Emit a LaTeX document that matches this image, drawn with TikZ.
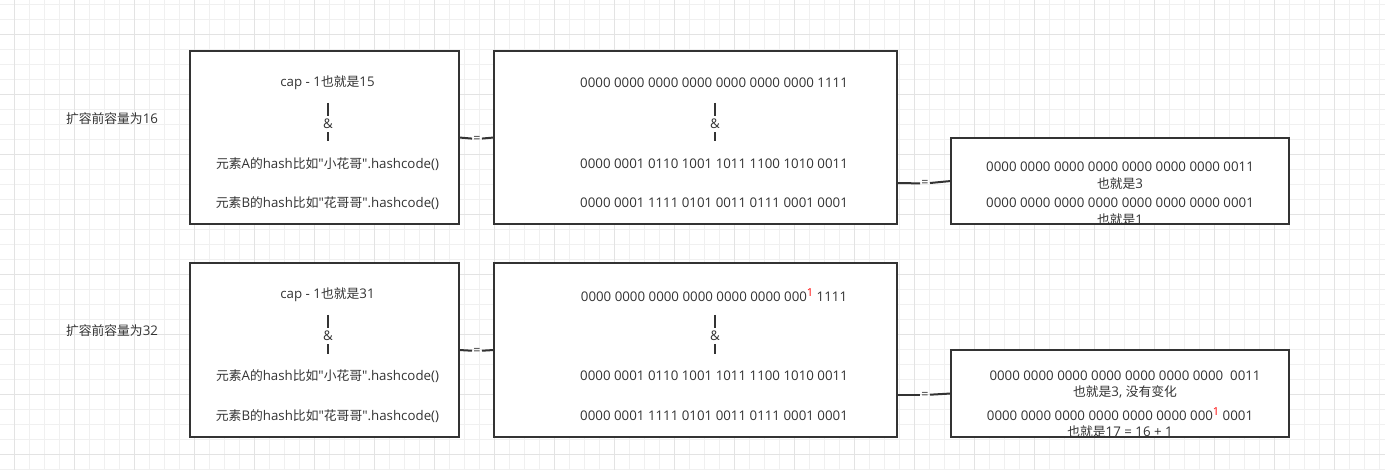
\documentclass[tikz,border=0pt]{standalone}
\usepackage{fontspec}
\setmainfont{Open Sans}[Ligatures=TeXOff]
\newfontfamily\cjk{Noto Sans CJK SC}[Scale=0.962]
\definecolor{linec}{HTML}{333333}
\definecolor{textc}{HTML}{333333}
\definecolor{gridl}{HTML}{F0F0F0}
\definecolor{gridd}{HTML}{E3E3E3}
\newcommand{\zh}[1]{{\cjk #1}}
\newcommand{\redone}{\textcolor{red}{\raisebox{4.5pt}{\fontsize{11}{11}\selectfont 1}}}
\begin{document}
\begin{tikzpicture}[x=1pt,y=-1pt,
  box/.style={draw=linec,line width=1.8pt,fill=white,inner sep=0pt,outer sep=0pt,anchor=north west},
  txt/.style={text=textc,font=\fontsize{13.3}{15}\selectfont,inner sep=0pt,anchor=center},
  eqlab/.style={text=textc,font=\fontsize{12.5}{13}\selectfont,inner sep=1.2pt,anchor=center},
  amplab/.style={text=textc,font=\fontsize{13.3}{15}\selectfont,inner sep=3pt,anchor=center},
  conn/.style={draw=linec,line width=2pt},
  vbar/.style={draw=linec,line width=1.8pt}]
\useasboundingbox (0,0) rectangle (1385,470);
\fill[white] (0,0) rectangle (1385,470);
% grid
\foreach \i in {0,...,92} {
  \pgfmathsetmacro{\gx}{14.3+15*\i}
  \draw[gridl,line width=0.8pt] (\gx,0) -- (\gx,470);
}
\foreach \i in {0,...,31} {
  \pgfmathsetmacro{\gy}{4.3+15*\i}
  \draw[gridl,line width=0.8pt] (0,\gy) -- (1385,\gy);
}
\foreach \i in {0,...,23} {
  \pgfmathsetmacro{\gx}{14.3+60*\i}
  \draw[gridd,line width=0.8pt] (\gx,0) -- (\gx,470);
}
\foreach \i in {0,...,7} {
  \pgfmathsetmacro{\gy}{34.3+60*\i}
  \draw[gridd,line width=0.8pt] (0,\gy) -- (1385,\gy);
}

% left labels
\node[txt] (lab16) at (112,119) {\zh{扩容前容量为}16};
\node[txt] (lab32) at (112,331) {\zh{扩容前容量为}32};

% boxes
\node[box,minimum width=269pt,minimum height=173pt] (b1) at (190,51) {};
\node[box,minimum width=403pt,minimum height=173pt] (b2) at (494,51) {};
\node[box,minimum width=338pt,minimum height=86pt] (b3) at (951,138) {};
\node[box,minimum width=269pt,minimum height=174pt] (b4) at (190,263) {};
\node[box,minimum width=403pt,minimum height=174pt] (b5) at (494,263) {};
\node[box,minimum width=338pt,minimum height=87pt] (b6) at (951,350) {};

% box 1 texts
\node[txt] (b1t1) at (327.5,83) {cap - 1\zh{也就是}15};
\coordinate (b1vt) at (328,103);
\coordinate (b1vb) at (328,141);
\node[amplab] (b1amp) at (328,124) {\&};
\draw[vbar] (b1vt) -- (b1amp);
\draw[vbar] (b1amp) -- (b1vb);
\node[txt] (b1t2) at (327.5,164) {\zh{元素}A\zh{的}hash\zh{比如}"\zh{小花哥}".hashcode()};
\node[txt] (b1t3) at (327.5,203) {\zh{元素}B\zh{的}hash\zh{比如}"\zh{花哥哥}".hashcode()};

% box 2 texts
\node[txt] (b2t1) at (714,83) {0000 0000 0000 0000 0000 0000 0000 1111};
\coordinate (b2vt) at (715,103);
\coordinate (b2vb) at (715,141);
\node[amplab] (b2amp) at (715,124) {\&};
\draw[vbar] (b2vt) -- (b2amp);
\draw[vbar] (b2amp) -- (b2vb);
\node[txt] (b2t2) at (714,164) {0000 0001 0110 1001 1011 1100 1010 0011};
\node[txt] (b2t3) at (714,203) {0000 0001 1111 0101 0011 0111 0001 0001};

% box 3 texts (clipped)
\begin{scope}
\clip (952,139) rectangle (1288,223);
\node[txt] (b3t1) at (1120,167) {0000 0000 0000 0000 0000 0000 0000 0011};
\node[txt] (b3t2) at (1120,184) {\zh{也就是}3};
\node[txt] (b3t3) at (1120,203) {0000 0000 0000 0000 0000 0000 0000 0001};
\node[txt] (b3t4) at (1120,219.5) {\zh{也就是}1};
\end{scope}

% box 4 texts
\node[txt] (b4t1) at (327.5,295) {cap - 1\zh{也就是}31};
\coordinate (b4vt) at (328,315);
\coordinate (b4vb) at (328,354);
\node[amplab] (b4amp) at (328,336) {\&};
\draw[vbar] (b4vt) -- (b4amp);
\draw[vbar] (b4amp) -- (b4vb);
\node[txt] (b4t2) at (327.5,376) {\zh{元素}A\zh{的}hash\zh{比如}"\zh{小花哥}".hashcode()};
\node[txt] (b4t3) at (327.5,416) {\zh{元素}B\zh{的}hash\zh{比如}"\zh{花哥哥}".hashcode()};

% box 5 texts
\node[txt] (b5t1) at (714,295) {0000 0000 0000 0000 0000 0000 000\redone{} 1111};
\coordinate (b5vt) at (715,315);
\coordinate (b5vb) at (715,354);
\node[amplab] (b5amp) at (715,336) {\&};
\draw[vbar] (b5vt) -- (b5amp);
\draw[vbar] (b5amp) -- (b5vb);
\node[txt] (b5t2) at (714,376) {0000 0001 0110 1001 1011 1100 1010 0011};
\node[txt] (b5t3) at (714,416) {0000 0001 1111 0101 0011 0111 0001 0001};

% box 6 texts (clipped)
\begin{scope}
\clip (952,351) rectangle (1288,436);
\node[txt] (b6t1) at (1125,376) {0000 0000 0000 0000 0000 0000 0000\ \ 0011};
\node[txt] (b6t2) at (1125,392) {\zh{也就是}3, \zh{没有变化}};
\node[txt] (b6t3) at (1120,414) {0000 0000 0000 0000 0000 0000 000\redone{} 0001};
\node[txt] (b6t4) at (1120,432) {\zh{也就是}17 = 16 + 1};
\end{scope}

% connectors
\node[eqlab] (eq1) at (477,139) {=};
\draw[conn] (b1.east) -- (eq1);
\draw[conn] (eq1) -- (b2.west);
\coordinate (c2s) at (897,183);
\node[eqlab] (eq2) at (925,183.5) {=};
\draw[conn] (c2s) -- (eq2);
\draw[conn] (eq2) -- (b3.west);
\node[eqlab] (eq3) at (477,351) {=};
\draw[conn] (b4.east) -- (eq3);
\draw[conn] (eq3) -- (b5.west);
\coordinate (c4s) at (897,395);
\node[eqlab] (eq4) at (925,395) {=};
\draw[conn] (c4s) -- (eq4);
\draw[conn] (eq4) -- (b6.west);
\end{tikzpicture}
\end{document}
